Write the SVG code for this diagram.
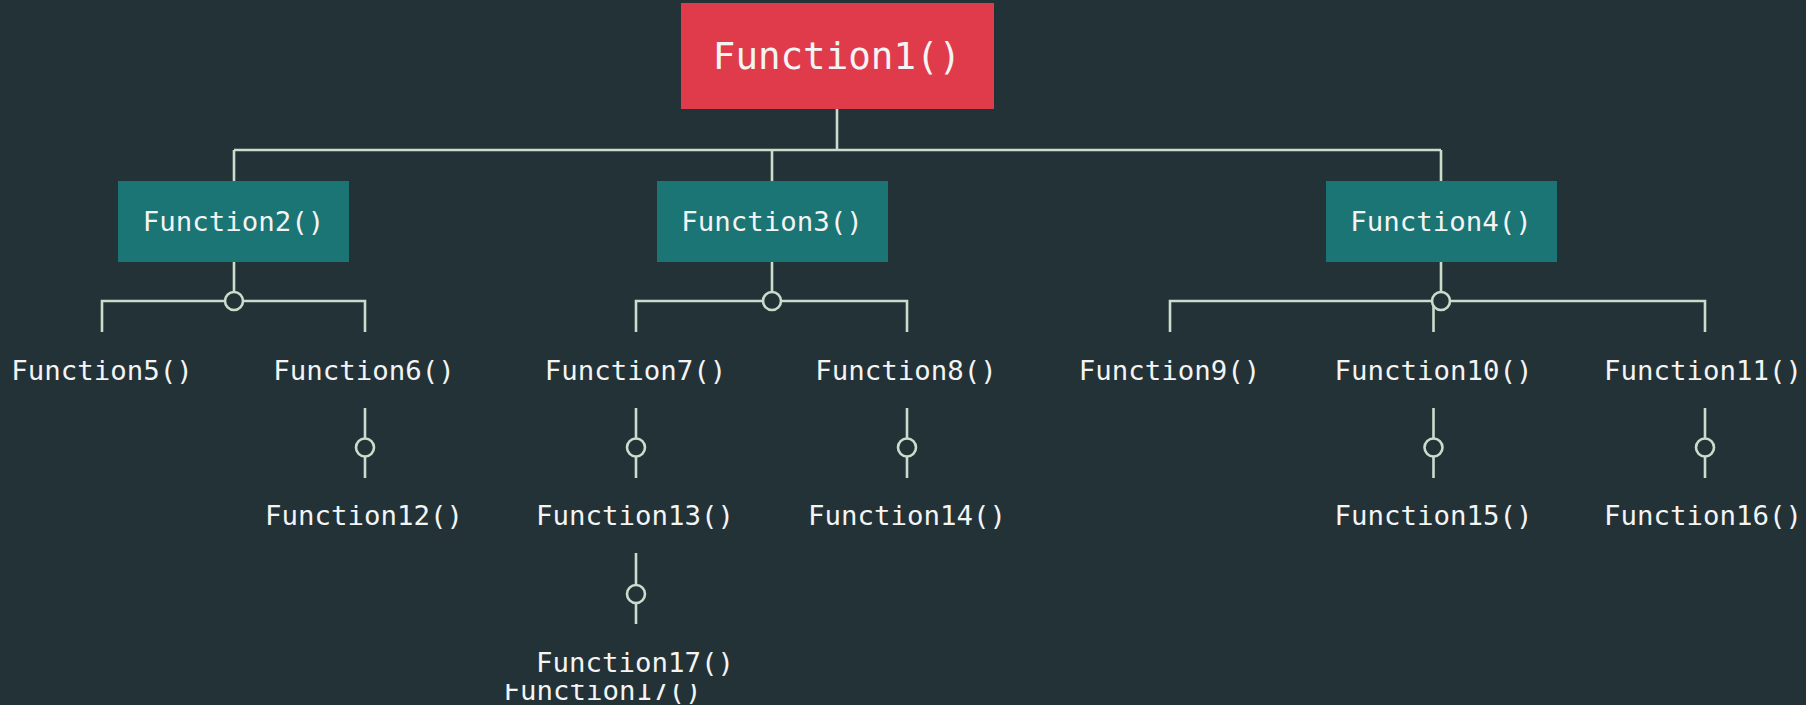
<svg xmlns="http://www.w3.org/2000/svg" width="1806" height="705" viewBox="0 0 1806 705">
  <defs>
    <style>
      .bg { fill: #233237; }
      .root { fill: #e03b4b; }
      .box { fill: #1b7574; }
      .t { font-family: "DejaVu Sans Mono", "Liberation Mono", monospace; fill: #f4f4f4; text-anchor: middle; }
      .t1 { font-size: 37.5px; }
      .t2 { font-size: 27.4px; }
      .ln { stroke: #c8ddcc; stroke-width: 2.6; fill: none; }
      .hub { stroke: #c8ddcc; stroke-width: 2.6; fill: #233237; }
    </style>
    <clipPath id="clipLow">
      <rect x="480" y="684" width="280" height="30"/>
    </clipPath>
  </defs>
  <rect class="bg" x="0" y="0" width="1806" height="705"/>

  <g id="connectors">
    <path class="ln" d="M837 109 V150 M234 150 H1441 M234 150 V181 M772 150 V181 M1441 150 V181"/>
    <path class="ln" d="M234 262 V301 M102 332 V301 H365 V332"/>
    <path class="ln" d="M772 262 V301 M636 332 V301 H907 V332"/>
    <path class="ln" d="M1441 262 V301 M1170 332 V301 H1705 V332 M1433.5 301 V332"/>
    <path class="ln" d="M365 408 V478 M636 408 V478 M907 408 V478 M1433.5 408 V478 M1705 408 V478 M636 553 V624"/>
    <circle class="hub" cx="234" cy="301" r="9"/>
    <circle class="hub" cx="772" cy="301" r="9"/>
    <circle class="hub" cx="1441" cy="301" r="9"/>
    <circle class="hub" cx="365" cy="447.5" r="9"/>
    <circle class="hub" cx="636" cy="447.5" r="9"/>
    <circle class="hub" cx="907" cy="447.5" r="9"/>
    <circle class="hub" cx="1433.5" cy="447.5" r="9"/>
    <circle class="hub" cx="1705" cy="447.5" r="9"/>
    <circle class="hub" cx="636" cy="594" r="9"/>
  </g>

  <g id="node-function1">
    <rect class="root" x="681" y="3" width="313" height="106"/>
    <text class="t t1" x="837" y="69">Function1()</text>
  </g>
  <g id="node-function2">
    <rect class="box" x="118" y="181" width="231" height="81"/>
    <text class="t t2" x="233.5" y="231">Function2()</text>
  </g>
  <g id="node-function3">
    <rect class="box" x="657" y="181" width="231" height="81"/>
    <text class="t t2" x="772" y="231">Function3()</text>
  </g>
  <g id="node-function4">
    <rect class="box" x="1326" y="181" width="231" height="81"/>
    <text class="t t2" x="1441" y="231">Function4()</text>
  </g>
  <g id="node-function5"><text class="t t2" x="102" y="380">Function5()</text></g>
  <g id="node-function6"><text class="t t2" x="364" y="380">Function6()</text></g>
  <g id="node-function7"><text class="t t2" x="635.5" y="380">Function7()</text></g>
  <g id="node-function8"><text class="t t2" x="906" y="380">Function8()</text></g>
  <g id="node-function9"><text class="t t2" x="1169.5" y="380">Function9()</text></g>
  <g id="node-function10"><text class="t t2" x="1433.5" y="380">Function10()</text></g>
  <g id="node-function11"><text class="t t2" x="1703" y="380">Function11()</text></g>
  <g id="node-function12"><text class="t t2" x="364" y="525">Function12()</text></g>
  <g id="node-function13"><text class="t t2" x="635" y="525">Function13()</text></g>
  <g id="node-function14"><text class="t t2" x="907" y="525">Function14()</text></g>
  <g id="node-function15"><text class="t t2" x="1433.5" y="525">Function15()</text></g>
  <g id="node-function16"><text class="t t2" x="1703" y="525">Function16()</text></g>
  <g id="node-function17"><text class="t t2" x="635" y="672">Function17()</text></g>
  <g id="node-function17-clipped" clip-path="url(#clipLow)">
    <text class="t t2" x="602.5" y="700">Function17()</text>
  </g>
</svg>
